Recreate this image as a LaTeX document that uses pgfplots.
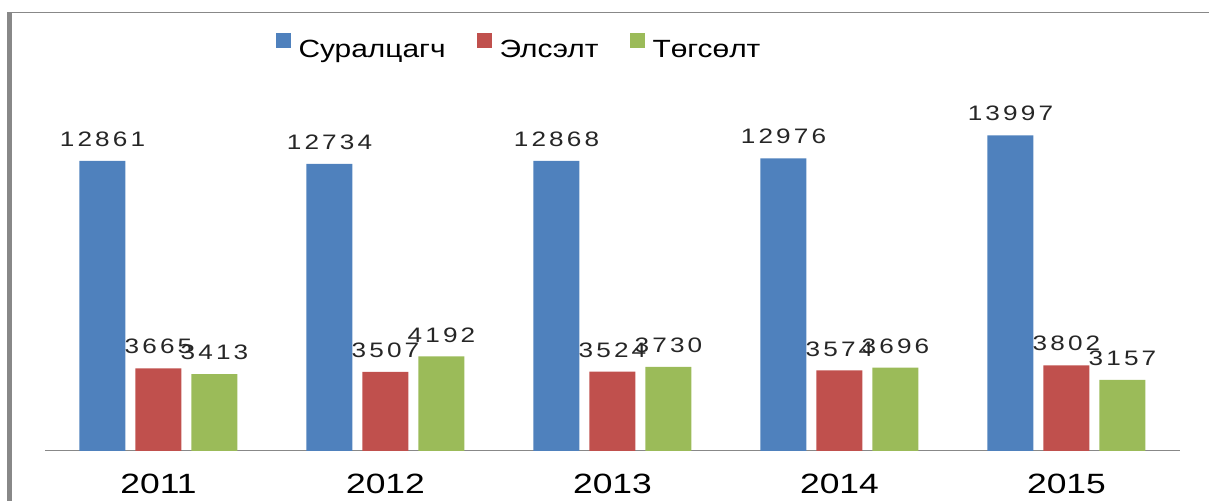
\documentclass[border=0pt]{standalone}
\usepackage{fontspec}
\setmainfont{Liberation Sans}
\usepackage{pgfplots}
\pgfplotsset{compat=1.18}
\newfontfamily\legfont[FakeStretch=1.2]{Liberation Sans}
\newfontfamily\tickfont[FakeStretch=1.27]{Liberation Sans}
\newfontfamily\labfont[FakeStretch=1.25,LetterSpace=15]{Liberation Sans}
\definecolor{cblue}{HTML}{4F81BD}
\definecolor{cred}{HTML}{C0504D}
\definecolor{cgreen}{HTML}{9BBB59}
\definecolor{frame}{HTML}{888888}
\begin{document}
\begin{tikzpicture}
\useasboundingbox (0,0) rectangle (1209bp,501bp);
\draw[frame, line width=1bp] (8bp,488.5bp) -- (1209bp,488.5bp);
\fill[frame] (7bp,0) rectangle (12bp,489bp);
\begin{axis}[
  at={(45bp,50bp)}, anchor=south west,
  scale only axis, width=1135bp, height=360.8bp,
  xmin=-0.5, xmax=4.5, ymin=0, ymax=16000,
  ybar=10bp, bar width=46bp,
  axis x line*=bottom, axis y line=none,
  x axis line style={frame, line width=1bp, -},
  xtick={0,...,4}, xticklabels={2011,2012,2013,2014,2015},
  xtick style={draw=none},
  xticklabel style={font=\tickfont\fontsize{28}{30}\selectfont, anchor=north, inner sep=0pt, yshift=-19bp},
  nodes near coords={\pgfmathprintnumber[fixed,precision=0,1000 sep={},assume math mode=true]{\pgfplotspointmeta}},
  every node near coord/.append style={font=\labfont\fontsize{21}{24}\selectfont, text=black!85, inner sep=0pt, anchor=south, yshift=14bp},
  legend columns=3,
  legend style={at={(0.4167,1.122)}, anchor=center, draw=none, fill=none,
    font=\legfont\fontsize{25}{30}\selectfont,
    nodes={inner sep=0pt},
    /tikz/every odd column/.append style={column sep=8bp},
    /tikz/every even column/.append style={column sep=31bp}},
]
\addplot[fill=cblue, draw=none, legend image code/.code={\fill[cblue] (0bp,1.5bp) rectangle (15bp,16.5bp);}] coordinates {(0,12861) (1,12734) (2,12868) (3,12976) (4,13997)};
\addplot[fill=cred, draw=none, legend image code/.code={\fill[cred] (0bp,1.5bp) rectangle (15bp,16.5bp);}] coordinates {(0,3665) (1,3507) (2,3524) (3,3574) (4,3802)};
\addplot[fill=cgreen, draw=none, legend image code/.code={\fill[cgreen] (0bp,1.5bp) rectangle (15bp,16.5bp);}] coordinates {(0,3413) (1,4192) (2,3730) (3,3696) (4,3157)};
\legend{Суралцагч, Элсэлт, Төгсөлт}
\end{axis}
\end{tikzpicture}
\end{document}
